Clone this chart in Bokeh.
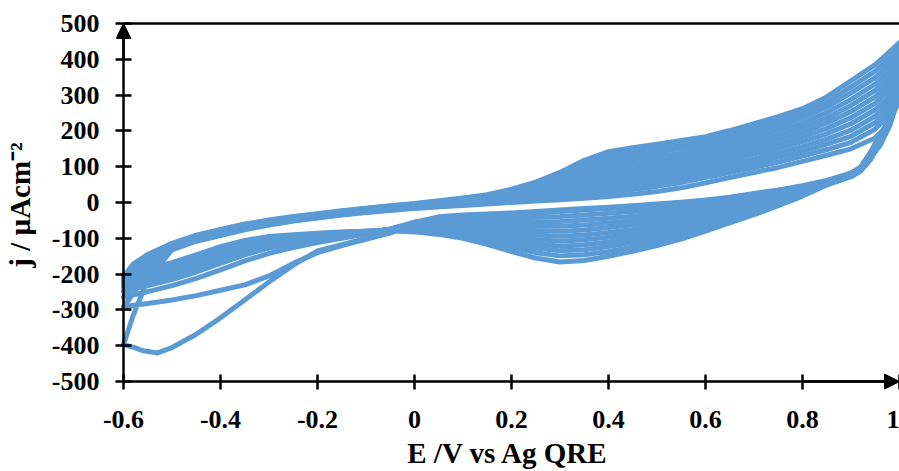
from bokeh.plotting import figure
from bokeh.models import FixedTicker, Arrow, NormalHead, Range1d
from bokeh.embed import file_html
from bokeh.resources import INLINE

# ---------------- data ----------------
x_ticks = [-0.6, -0.4, -0.2, 0.0, 0.2, 0.4, 0.6, 0.8, 1.0]
x_tick_labels = ["-0.6", "-0.4", "-0.2", "0", "0.2", "0.4", "0.6", "0.8", "1"]
y_ticks = [-500, -400, -300, -200, -100, 0, 100, 200, 300, 400, 500]
y_tick_labels = ["-500", "-400", "-300", "-200", "-100", "0", "100", "200", "300", "400", "500"]
x_title = "E /V vs Ag QRE"
y_title = "j / µAcm⁻²"

# potentials of the positive-going sweeps (V)
E_fwd = [-0.6, -0.58, -0.55, -0.5, -0.45, -0.4, -0.35, -0.3, -0.25, -0.2, -0.15, -0.1, -0.05,
         0.0, 0.05, 0.1, 0.15, 0.2, 0.25, 0.3, 0.35, 0.4, 0.45, 0.5, 0.55, 0.6, 0.65, 0.7,
         0.75, 0.8, 0.85, 0.9, 0.95, 0.975, 1.0]
# the very first sweep starts at 0 V
E_fwd_first = [0.0, 0.05, 0.1, 0.15, 0.2, 0.25, 0.3, 0.35, 0.4, 0.45, 0.5, 0.55, 0.6, 0.65, 0.7,
               0.75, 0.8, 0.85, 0.9, 0.95, 0.975, 1.0]
# potentials of the negative-going sweeps (V)
E_rev = [1.0, 0.98, 0.96, 0.94, 0.92, 0.9, 0.85, 0.8, 0.75, 0.7, 0.65, 0.6, 0.55, 0.5, 0.45, 0.4,
         0.35, 0.3, 0.25, 0.2, 0.15, 0.1, 0.05, 0.0, -0.05, -0.1, -0.15, -0.2, -0.25, -0.3, -0.35,
         -0.4, -0.45, -0.5, -0.55, -0.58, -0.6]
E_rev_first = [1.0, 0.98, 0.96, 0.94, 0.92, 0.9, 0.85, 0.8, 0.75, 0.7, 0.65, 0.6, 0.55, 0.5, 0.45,
               0.4, 0.35, 0.3, 0.25, 0.2, 0.15, 0.1, 0.05, 0.0, -0.05, -0.1, -0.15, -0.2, -0.25,
               -0.3, -0.35, -0.4, -0.45, -0.5, -0.53, -0.56, -0.58, -0.6]

# current density (uA cm-2)
cycle1_fwd = [-17, -12, -8, -4, 0, 4, 8, 12, 17, 23, 31, 41, 55, 70, 84, 98, 115, 132, 150, 180, 215, 285]
cycle1_rev = [285, 235, 190, 140, 100, 82, 62, 47, 35, 25, 15, 7, 1, -4, -9, -13, -17, -21, -25, -29,
              -32, -35, -40, -55, -85, -100, -118, -135, -175, -222, -272, -322, -368, -405, -420,
              -414, -404, -397]

cycle2_fwd = [-397, -315, -215, -132, -108, -92, -76, -63, -52, -43, -35, -28, -22, -16, -11, -6, -1, 4,
              9, 15, 21, 28, 36, 45, 56, 70, 84, 98, 113, 130, 148, 168, 205, 240, 300]
cycle3_fwd = [-292, -255, -190, -128, -107, -90, -75, -62, -51, -42, -34, -27, -21, -15, -9, -4, 1, 7,
              14, 22, 30, 39, 47, 57, 68, 81, 96, 110, 126, 143, 163, 185, 223, 257, 315]
cycle4_fwd = [-265, -235, -180, -127, -106, -89, -73, -60, -50, -41, -33, -26, -20, -14, -8, -2, 4, 10,
              18, 28, 39, 50, 59, 68, 79, 93, 107, 122, 138, 156, 177, 202, 241, 275, 329]
cycle5_fwd = [-248, -220, -172, -126, -104, -87, -72, -59, -49, -40, -32, -25, -18, -12, -6, 0, 6, 14,
              23, 35, 48, 61, 70, 80, 91, 104, 119, 135, 151, 170, 192, 220, 259, 292, 344]
cycle6_fwd = [-236, -208, -166, -125, -103, -86, -70, -58, -48, -39, -31, -24, -17, -11, -5, 2, 8, 17,
              27, 41, 57, 72, 82, 91, 102, 115, 130, 147, 164, 183, 207, 237, 277, 310, 358]
cycle7_fwd = [-228, -198, -162, -124, -102, -85, -69, -57, -46, -37, -29, -22, -16, -10, -3, 4, 11, 20,
              32, 48, 67, 84, 94, 103, 114, 127, 142, 159, 177, 196, 222, 254, 295, 328, 373]
cycle8_fwd = [-222, -190, -158, -123, -100, -83, -68, -55, -45, -36, -28, -21, -15, -9, -1, 5, 13, 23,
              37, 55, 78, 96, 106, 115, 126, 138, 154, 171, 189, 209, 236, 271, 313, 345, 387]
cycle9_fwd = [-218, -184, -155, -122, -99, -82, -66, -54, -44, -35, -27, -20, -13, -7, 0, 7, 15, 26,
              42, 63, 89, 108, 119, 128, 138, 150, 165, 183, 202, 222, 251, 288, 331, 362, 402]
cycle10_fwd = [-214, -178, -153, -121, -98, -81, -65, -53, -43, -34, -26, -19, -12, -6, 2, 9, 17, 29,
               47, 70, 99, 120, 131, 140, 151, 161, 178, 196, 215, 236, 266, 306, 349, 380, 416]
cycle11_fwd = [-211, -174, -151, -120, -97, -79, -63, -51, -41, -32, -24, -17, -10, -4, 3, 11, 20, 33,
               52, 77, 109, 131, 143, 152, 162, 174, 189, 208, 227, 249, 280, 323, 367, 397, 431]
cycle12_fwd = [-208, -172, -145, -114, -91, -75, -60, -49, -39, -31, -23, -16, -9, -3, 5, 13, 22, 37,
               57, 84, 118, 142, 153, 163, 173, 184, 201, 220, 240, 262, 295, 340, 385, 415, 447]

cycle2_rev = [300, 215, 160, 128, 98, 82, 60, 45, 33, 22, 12, 4, -3, -8, -13, -17, -21, -25, -29, -33,
              -36, -40, -47, -56, -85, -103, -120, -140, -170, -205, -230, -245, -260, -272, -282, -287, -292]
cycle3_rev = [315, 219, 161, 127, 97, 81, 59, 42, 29, 16, 5, -4, -13, -19, -25, -30, -35, -39, -41, -43,
              -44, -46, -49, -55, -74, -88, -100, -112, -126, -142, -163, -188, -212, -232, -249, -258, -265]
cycle4_rev = [329, 222, 162, 126, 96, 80, 58, 40, 25, 11, -2, -13, -23, -30, -38, -44, -49, -53, -54, -53,
              -52, -52, -54, -58, -74, -85, -95, -105, -116, -127, -146, -170, -194, -215, -232, -241, -248]
cycle5_rev = [344, 226, 162, 126, 95, 79, 57, 37, 20, 5, -9, -21, -33, -42, -50, -57, -63, -66, -66, -64,
              -60, -58, -58, -61, -75, -84, -92, -101, -110, -120, -136, -158, -182, -203, -220, -229, -236]
cycle6_rev = [358, 229, 163, 125, 94, 78, 56, 34, 16, 0, -16, -30, -43, -53, -62, -70, -77, -80, -78, -74,
              -68, -64, -63, -64, -75, -83, -90, -97, -105, -114, -128, -148, -171, -193, -211, -220, -228]
cycle7_rev = [373, 233, 164, 124, 93, 77, 55, 32, 12, -6, -23, -38, -53, -64, -75, -84, -91, -94, -91, -84,
              -76, -70, -67, -67, -75, -82, -88, -94, -101, -109, -122, -141, -164, -186, -204, -214, -222]
cycle8_rev = [387, 236, 165, 123, 92, 76, 53, 29, 8, -12, -29, -46, -62, -75, -87, -97, -104, -108, -103, -94,
              -84, -76, -71, -70, -76, -81, -86, -92, -98, -105, -118, -136, -159, -181, -199, -209, -218]
cycle9_rev = [402, 240, 166, 122, 91, 75, 52, 26, 4, -17, -36, -55, -72, -86, -99, -110, -118, -122, -115,
              -104, -92, -82, -76, -73, -77, -81, -85, -90, -96, -102, -114, -132, -155, -177, -195, -205, -214]
cycle10_rev = [416, 243, 166, 122, 90, 74, 51, 23, -1, -23, -43, -63, -82, -98, -111, -123, -132, -135, -127,
               -115, -100, -88, -80, -76, -77, -80, -84, -88, -94, -99, -111, -129, -152, -174, -191, -201, -211]
cycle11_rev = [431, 247, 167, 121, 89, 73, 50, 21, -5, -28, -50, -72, -92, -109, -124, -137, -146, -149, -140,
               -125, -108, -94, -85, -79, -78, -80, -83, -87, -92, -97, -108, -126, -149, -171, -188, -198, -208]
cycle12_rev = [447, 250, 168, 120, 88, 72, 49, 18, -9, -34, -57, -80, -102, -120, -136, -150, -162, -166, -155,
               -137, -117, -100, -89, -82, -79, -80, -82, -86, -90, -95, -106, -123, -146, -168, -184, -195, -205]

# ---------------- layout / style ----------------
W, H = 899, 471
FRAME_L, FRAME_T, FRAME_B = 116, 20, 79      # canvas borders around the plotting frame
AXIS_X_PX, AXIS_Y_PX, TOP_PX = 123, 384, 23  # pixel spots of E=-0.6, j=-500, j=500
PX_PER_V = 485.0
PX_PER_UA = 0.361
BLUE = "#5B9BD5"
FONT = "Liberation Serif"

x_start = x_ticks[0] - (AXIS_X_PX - FRAME_L) / PX_PER_V
y_start = y_ticks[0] - ((H - FRAME_B) - AXIS_Y_PX) / PX_PER_UA
y_end = y_ticks[-1] + (TOP_PX - FRAME_T) / PX_PER_UA

p = figure(width=W, height=H, x_range=Range1d(x_start, x_ticks[-1]),
           y_range=Range1d(y_start, y_end),
           output_backend="svg", toolbar_location=None,
           min_border_left=FRAME_L, min_border_right=0, min_border_top=FRAME_T,
           min_border_bottom=FRAME_B)
p.outline_line_color = None
p.xgrid.visible = False
p.ygrid.visible = False
p.background_fill_color = "white"
p.border_fill_color = "white"

cycles = [
    (E_fwd_first, cycle1_fwd, E_rev_first, cycle1_rev),
    (E_fwd, cycle2_fwd, E_rev, cycle2_rev),
    (E_fwd, cycle3_fwd, E_rev, cycle3_rev),
    (E_fwd, cycle4_fwd, E_rev, cycle4_rev),
    (E_fwd, cycle5_fwd, E_rev, cycle5_rev),
    (E_fwd, cycle6_fwd, E_rev, cycle6_rev),
    (E_fwd, cycle7_fwd, E_rev, cycle7_rev),
    (E_fwd, cycle8_fwd, E_rev, cycle8_rev),
    (E_fwd, cycle9_fwd, E_rev, cycle9_rev),
    (E_fwd, cycle10_fwd, E_rev, cycle10_rev),
    (E_fwd, cycle11_fwd, E_rev, cycle11_rev),
    (E_fwd, cycle12_fwd, E_rev, cycle12_rev),
]
for ef, jf, er, jr in cycles:
    p.line(list(ef) + list(er), list(jf) + list(jr), line_color=BLUE, line_width=5,
           line_join="round", line_cap="round")

for ax in (p.xaxis[0], p.yaxis[0]):
    ax.axis_line_color = None          # axis lines are drawn at the data origin below
    ax.major_tick_line_color = "black"
    ax.major_tick_line_width = 2.5
    ax.minor_tick_line_color = None
    ax.major_label_text_font = FONT
    ax.major_label_text_font_style = "bold"
    ax.major_label_text_font_size = "26px"
    ax.major_label_text_color = "black"
    ax.axis_label_text_font = FONT
    ax.axis_label_text_font_style = "bold"
    ax.axis_label_text_font_size = "29px"
    ax.axis_label_text_color = "black"

p.xaxis.ticker = FixedTicker(ticks=x_ticks)
p.xaxis.major_label_overrides = {t: s for t, s in zip(x_ticks, x_tick_labels)}
p.xaxis.major_tick_in = 15
p.xaxis.major_tick_out = 0
p.xaxis.major_label_standoff = 21
p.xaxis.axis_label = x_title
p.xaxis.axis_label_standoff = 6

p.yaxis.ticker = FixedTicker(ticks=y_ticks)
p.yaxis.major_label_overrides = {t: s for t, s in zip(y_ticks, y_tick_labels)}
p.yaxis.major_tick_in = 15
p.yaxis.major_tick_out = 1
p.yaxis.major_label_standoff = 16
p.yaxis.axis_label = y_title
p.yaxis.axis_label_standoff = 13

# axis lines through E=-0.6 and j=-500, plus the top border at j=500
p.segment(x0=[x_ticks[0], x_ticks[0], x_ticks[0]], y0=[y_ticks[0], y_ticks[0], y_ticks[-1]],
          x1=[x_ticks[0], x_ticks[-1], x_ticks[-1]], y1=[y_ticks[-1], y_ticks[0], y_ticks[-1]],
          line_color="black", line_width=2.5)

# arrow heads on both axes
p.add_layout(Arrow(end=NormalHead(size=15, fill_color="black", line_color="black", line_width=1),
                   x_start=x_ticks[0], y_start=y_ticks[-2], x_end=x_ticks[0], y_end=y_ticks[-1],
                   line_color="black", line_width=2.5))
p.add_layout(Arrow(end=NormalHead(size=15, fill_color="black", line_color="black", line_width=1),
                   x_start=x_ticks[-2], y_start=y_ticks[0], x_end=x_ticks[-1], y_end=y_ticks[0],
                   line_color="black", line_width=2.5))

open("out.html", "w").write(file_html(p, INLINE))
